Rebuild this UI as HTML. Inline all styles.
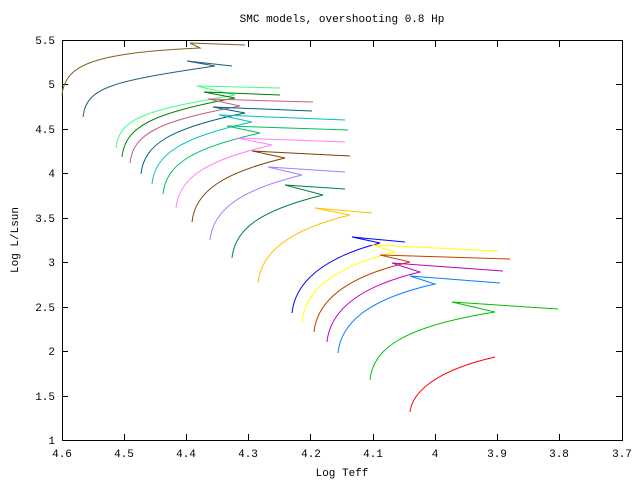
<!DOCTYPE html>
<html><head><style>body{margin:0;background:#fff}svg{display:block}text{font-family:"Liberation Mono",monospace;font-size:11px;fill:#000}</style></head>
<body>
<svg width="640" height="480" viewBox="0 0 640 480">
<rect width="640" height="480" fill="#fff"/>
<text x="342" y="22" text-anchor="middle">SMC models, overshooting 0.8 Hp</text>
<g stroke="#000" stroke-width="1" fill="none">
<rect x="62.5" y="40.5" width="560" height="400"/>
<path d="M124.5 440v-6M186.5 440v-6M248.5 440v-6M310.5 440v-6M373.5 440v-6M435.5 440v-6M497.5 440v-6M559.5 440v-6
M124.5 41v6M186.5 41v6M248.5 41v6M310.5 41v6M373.5 41v6M435.5 41v6M497.5 41v6M559.5 41v6
M62 396.5h6M62 351.5h6M62 307.5h6M62 262.5h6M62 218.5h6M62 173.5h6M62 129.5h6M62 84.5h6
M622 396.5h-6M622 351.5h-6M622 307.5h-6M622 262.5h-6M622 218.5h-6M622 173.5h-6M622 129.5h-6M622 84.5h-6"/>
</g>
<g text-anchor="middle">
<text x="62" y="457">4.6</text><text x="124" y="457">4.5</text><text x="186" y="457">4.4</text><text x="248" y="457">4.3</text><text x="311" y="457">4.2</text><text x="373" y="457">4.1</text><text x="435" y="457">4</text><text x="497" y="457">3.9</text><text x="559" y="457">3.8</text><text x="622" y="457">3.7</text>
</g>
<g text-anchor="end">
<text x="55" y="444">1</text><text x="55" y="400">1.5</text><text x="55" y="355">2</text><text x="55" y="311">2.5</text><text x="55" y="266">3</text><text x="55" y="222">3.5</text><text x="55" y="177">4</text><text x="55" y="133">4.5</text><text x="55" y="88">5</text><text x="55" y="44">5.5</text>
</g>
<text x="342" y="476" text-anchor="middle">Log Teff</text>
<text transform="translate(18,240) rotate(-90)" text-anchor="middle">Log L/Lsun</text>
<g fill="none" stroke-width="1">
<path stroke="#806020" d="M62 95C65 65 92 53 200 48L190 43L245 45"/>
<path stroke="#1f5f7f" d="M83 117C86 87 113 81 215 66L187 61L232 66"/>
<path stroke="#40ff80" d="M116 148C119 118 146 110 235 95L197 86L280 88"/>
<path stroke="#008000" d="M122 157C125 127 152 113 235 98L204 92L280 95"/>
<path stroke="#c06080" d="M130 163C133 133 160 121 240 106L208 99L313 102"/>
<path stroke="#006080" d="M141 174C144 144 171 128 245 113L213 107L312 111"/>
<path stroke="#00c0c0" d="M152 184C155 154 182 137 252 122L219 115L345 120"/>
<path stroke="#00c060" d="M163 194C166 164 193 148 260 133L227 126L348 130"/>
<path stroke="#ff80ff" d="M176 208C179 178 206 160 272 145L237 138L345 142"/>
<path stroke="#804000" d="M192 222C195 192 222 173 285 158L252 151L350 156"/>
<path stroke="#a080ff" d="M210 240C213 210 240 190 302 175L268 167L345 172"/>
<path stroke="#008040" d="M232 258C235 228 262 210 323 195L285 185L345 189"/>
<path stroke="#ffc000" d="M258 283C261 253 288 230 350 215L315 208L372 213"/>
<path stroke="#0000ff" d="M292 313C295 283 322 258 380 243L352 237L405 242"/>
<path stroke="#ffff00" d="M302 322C305 292 332 267 395 252L372 245L498 251"/>
<path stroke="#c04000" d="M314 332C317 302 344 277 410 262L380 255L510 259"/>
<path stroke="#c000c0" d="M327 342C330 312 357 287 420 272L392 263L503 271"/>
<path stroke="#0080ff" d="M338 353C341 323 368 299 435 284L410 276L500 283"/>
<path stroke="#00c000" d="M370 380C373 350 400 327 495 312L452 302L558 309"/>
<path stroke="#ff0000" d="M410 412C412 395 430 372 495 357"/>
</g>
</svg>
</body></html>
